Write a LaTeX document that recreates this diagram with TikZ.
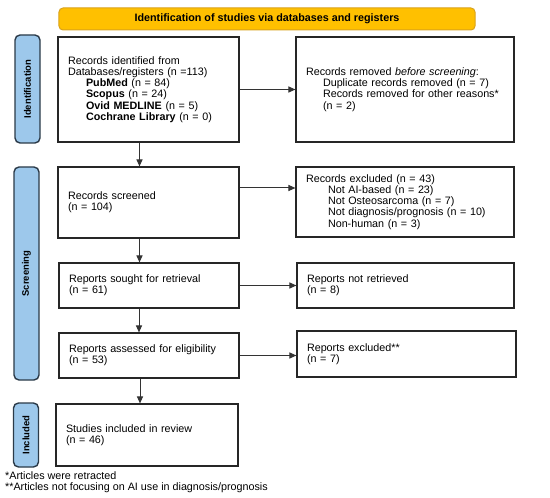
\documentclass[tikz,border=0pt]{standalone}
\usepackage{fontspec}
\setmainfont{Liberation Sans}
\usetikzlibrary{arrows.meta}
\definecolor{sidefill}{HTML}{9DC8EB}
\definecolor{sideborder}{HTML}{2B3A48}
\definecolor{bannerfill}{HTML}{FFC000}
\definecolor{bannerborder}{HTML}{D9A21B}
\begin{document}
\begin{tikzpicture}[x=1bp,y=-1bp,
  box/.style={draw=black!85,line width=1.1bp,rectangle,align=left,inner xsep=10bp,inner ysep=0pt,
    font=\fontsize{10.8}{11.2}\selectfont},
  side/.style={draw=sideborder,fill=sidefill,line width=1.4bp,rounded corners=5bp,minimum width=25bp,inner sep=0pt},
  sidelabel/.style={rotate=90,font=\bfseries\fontsize{9.5}{11}\selectfont},
  arr/.style={draw=black!80,line width=1bp,-{Triangle[length=7bp,width=6bp]}},
  ind/.style={}]
\useasboundingbox (0,0) rectangle (550,498);
\fill[white] (0,0) rectangle (550,498);

% banner
\node[draw=bannerborder,fill=bannerfill,line width=1bp,rounded corners=4bp,minimum width=416bp,minimum height=22bp,inner sep=0pt,
  font=\bfseries\fontsize{10.8}{12}\selectfont] (banner) at (267,19) {Identification of studies via databases and registers};

% side bars
\node[side,minimum height=108bp] (s1) at (27.5,89) {};
\node[sidelabel] (s1l) at (s1) {Identification};
\node[side,minimum height=213bp] (s2) at (26.5,273.5) {};
\node[sidelabel] (s2l) at (s2) {Screening};
\node[side,minimum height=64bp] (s3) at (26,435) {};
\node[sidelabel] (s3l) at (s3) {Included};

% boxes
\node[box,text width=161bp,minimum height=105bp] (b1) at (148.5,89.5) {Records identified from\\
Databases/registers (n =113)\\
\hspace*{18bp}\textbf{PubMed} (n = 84)\\
\hspace*{18bp}\textbf{Scopus} (n = 24)\\
\hspace*{18bp}\textbf{Ovid MEDLINE} (n = 5)\\
\hspace*{18bp}\textbf{Cochrane Library} (n = 0)};

\node[box,text width=198bp,minimum height=105bp] (b2) at (405,89.5) {Records removed \textit{before screening}:\\
\hspace*{17bp}Duplicate records removed (n = 7)\\
\hspace*{17bp}Records removed for other reasons*\\
\hspace*{17bp}(n = 2)};

\node[box,text width=161bp,minimum height=71bp] (b3) at (148.5,202.5) {Records screened\\(n = 104)};

\node[box,text width=198bp,minimum height=70bp] (b4) at (405,202) {Records excluded (n = 43)\\
\hspace*{22bp}Not AI-based (n = 23)\\
\hspace*{22bp}Not Osteosarcoma (n = 7)\\
\hspace*{22bp}Not diagnosis/prognosis (n = 10)\\
\hspace*{22bp}Non-human (n = 3)};

\node[box,text width=160bp,minimum height=45bp] (b5) at (149,285.5) {Reports sought for retrieval\\(n = 61)};
\node[box,text width=197bp,minimum height=45bp] (b6) at (405.5,285.5) {Reports not retrieved\\(n = 8)};
\node[box,text width=160bp,minimum height=45bp] (b7) at (149,355.5) {Reports assessed for eligibility\\(n = 53)};
\node[box,text width=199bp,minimum height=46bp] (b8) at (406.5,354) {Reports excluded**\\(n = 7)};
\node[box,text width=162bp,minimum height=62bp] (b9) at (147,435) {Studies included in review\\(n = 46)};

% footnotes
\node[anchor=west,align=left,inner sep=0pt,font=\fontsize{10.8}{10.7}\selectfont] (fn) at (5,482) {*Articles were retracted\\**Articles not focusing on AI use in diagnosis/prognosis};

% arrows
\draw[arr] (b1.east) -- (b1.east -| b2.west);
\draw[arr] ([yshift=14.5bp]b3.east) -- ([yshift=14.5bp]b3.east -| b4.west);
\draw[arr] (b5.east) -- (b5.east -| b6.west);
\draw[arr] (b7.east) -- (b7.east -| b8.west);
\draw[arr] ([xshift=-9bp]b1.south) -- ([xshift=-9bp]b1.south |- b3.north);
\draw[arr] ([xshift=-9bp]b3.south) -- ([xshift=-9bp]b3.south |- b5.north);
\draw[arr] ([xshift=-10bp]b5.south) -- ([xshift=-10bp]b5.south |- b7.north);
\draw[arr] ([xshift=-9bp]b7.south) -- ([xshift=-9bp]b7.south |- b9.north);
\end{tikzpicture}
\end{document}
